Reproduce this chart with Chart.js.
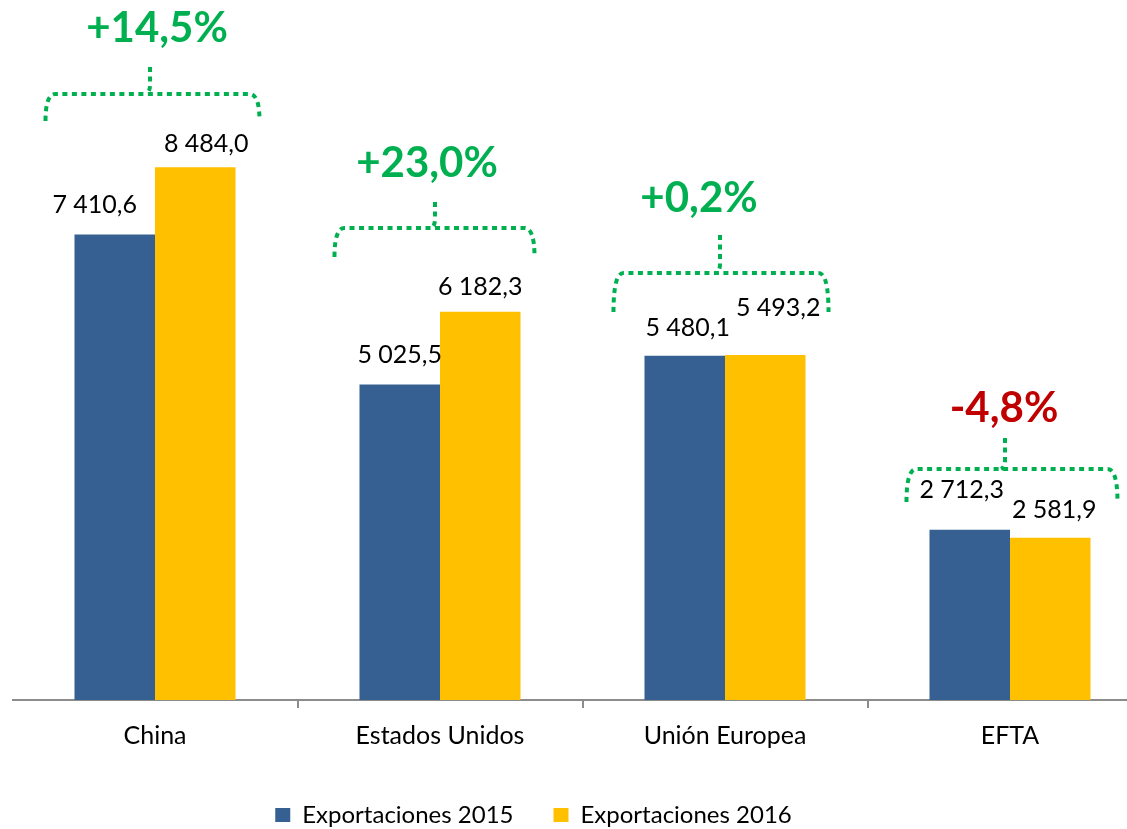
<!DOCTYPE html>
<html>
<head>
<meta charset="utf-8">
<script src="https://cdn.jsdelivr.net/npm/chart.js@4.4.0/dist/chart.umd.min.js"></script>
<style>
  html, body { margin: 0; padding: 0; overflow: hidden; background: #fff; }
  #wrap { position: absolute; left: 0; top: 0; width: 1160px; height: 840px; }
</style>
</head>
<body>
<div id="wrap"><canvas id="chart"></canvas></div>
<script>
const categories = ["China", "Estados Unidos", "Unión Europea", "EFTA"];
const seriesNames = ["Exportaciones 2015", "Exportaciones 2016"];
const exp2015 = [7410.6, 5025.5, 5480.1, 2712.3];
const exp2016 = [8484.0, 6182.3, 5493.2, 2581.9];

// level (in axis units) of the dotted bracket over each pair of bars
const bracketLevel = [9650, 7516, 6799, 3678];

// hand placement of the labels, like in the original sheet (px)
const labelNudge = [
  [[-20, 30], [0, 29], [3, 28], [-8, 40]],
  [[11, 23], [0, 25], [13, 47], [4, 28]],
];
const bracketLeft = [29, 25, 31, 23];
const bracketRight = [24, 14, 23, 27];
const bracketDepth = [27, 29, 39, 33];
const stemLen = [27, 26, 38, 31];
const pctRise = [66, 65, 75, 61];
const pctShift = [2, -13, -26, -6];

const blue = "#376092";
const yellow = "#FFC000";
const green = "#00B050";
const red = "#C00000";
const font = "Lato";

const fmt = (v) => {
  const [int, dec] = v.toFixed(1).split(".");
  return int.replace(/\B(?=(\d{3})+(?!\d))/g, " ") + "," + dec;
};

const pct = (i) => {
  const p = (exp2016[i] / exp2015[i] - 1) * 100;
  return (p >= 0 ? "+" : "") + p.toFixed(1).replace(".", ",") + "%";
};

const shiftLegend = {
  id: "shiftLegend",
  afterLayout(chart) {
    chart.legend.left -= 49;
    chart.legend.right -= 49;
  },
};

const annotations = {
  id: "annotations",
  afterDatasetsDraw(chart) {
    const ctx = chart.ctx;
    const yScale = chart.scales.y;
    const metas = [chart.getDatasetMeta(0), chart.getDatasetMeta(1)];
    ctx.save();

    ctx.font = `25px ${font}`;
    ctx.fillStyle = "#000";
    ctx.textAlign = "center";
    ctx.textBaseline = "middle";
    metas.forEach((meta, d) => {
      meta.data.forEach((bar, i) => {
        const n = labelNudge[d][i];
        ctx.fillText(fmt(chart.data.datasets[d].data[i]), bar.x + n[0], bar.y - n[1]);
      });
    });

    categories.forEach((c, i) => {
      const a = metas[0].data[i];
      const b = metas[1].data[i];
      const left = a.x - a.width / 2 - bracketLeft[i];
      const right = b.x + b.width / 2 + bracketRight[i];
      const ly = yScale.getPixelForValue(bracketLevel[i]);
      const mid = (a.x + b.x) / 2;
      const sx = mid - 5;

      ctx.strokeStyle = green;
      ctx.lineWidth = 4;
      ctx.setLineDash([5, 4.5]);
      ctx.beginPath();
      ctx.moveTo(left, ly + bracketDepth[i]);
      ctx.quadraticCurveTo(left, ly, left + 10, ly);
      ctx.lineTo(right - 10, ly);
      ctx.quadraticCurveTo(right, ly, right, ly + bracketDepth[i]);
      ctx.stroke();

      ctx.beginPath();
      ctx.moveTo(sx, ly - stemLen[i]);
      ctx.lineTo(sx, ly - 9);
      ctx.quadraticCurveTo(sx, ly - 2, sx - 4, ly);
      ctx.stroke();

      ctx.setLineDash([]);
      const txt = pct(i);
      ctx.font = `bold 42px ${font}`;
      ctx.fillStyle = txt.startsWith("-") ? red : green;
      ctx.fillText(txt, mid + pctShift[i], ly - pctRise[i]);
    });
    ctx.restore();
  },
};

new Chart(document.getElementById("chart"), {
  type: "bar",
  data: {
    labels: categories,
    datasets: [
      { label: seriesNames[0], data: exp2015, backgroundColor: blue },
      { label: seriesNames[1], data: exp2016, backgroundColor: yellow },
    ],
  },
  options: {
    responsive: true,
    maintainAspectRatio: false,
    animation: false,
    devicePixelRatio: 1,
    layout: { padding: { left: 12.5, right: 7.5, top: 9.2, bottom: 3 } },
    datasets: { bar: { categoryPercentage: 0.565, barPercentage: 1 } },
    scales: {
      x: {
        grid: {
          offset: true,
          drawOnChartArea: false,
          tickLength: 8,
          lineWidth: 2,
          color: (c) => (c.index === 0 ? "rgba(0,0,0,0)" : "#8c8c8c"),
        },
        border: { display: true, color: "#8c8c8c", width: 2 },
        ticks: { color: "#000", font: { family: font, size: 25 }, padding: 13 },
        afterFit: (scale) => { scale.height = 63; },
      },
      y: { display: false, min: 0, max: 11000 },
    },
    plugins: {
      legend: {
        position: "bottom",
        labels: {
          color: "#000",
          font: { family: font, size: 24 },
          boxWidth: 15,
          boxHeight: 14,
          padding: 40,
        },
      },
      tooltip: { enabled: false },
    },
  },
  plugins: [shiftLegend, annotations],
});
</script>
</body>
</html>
